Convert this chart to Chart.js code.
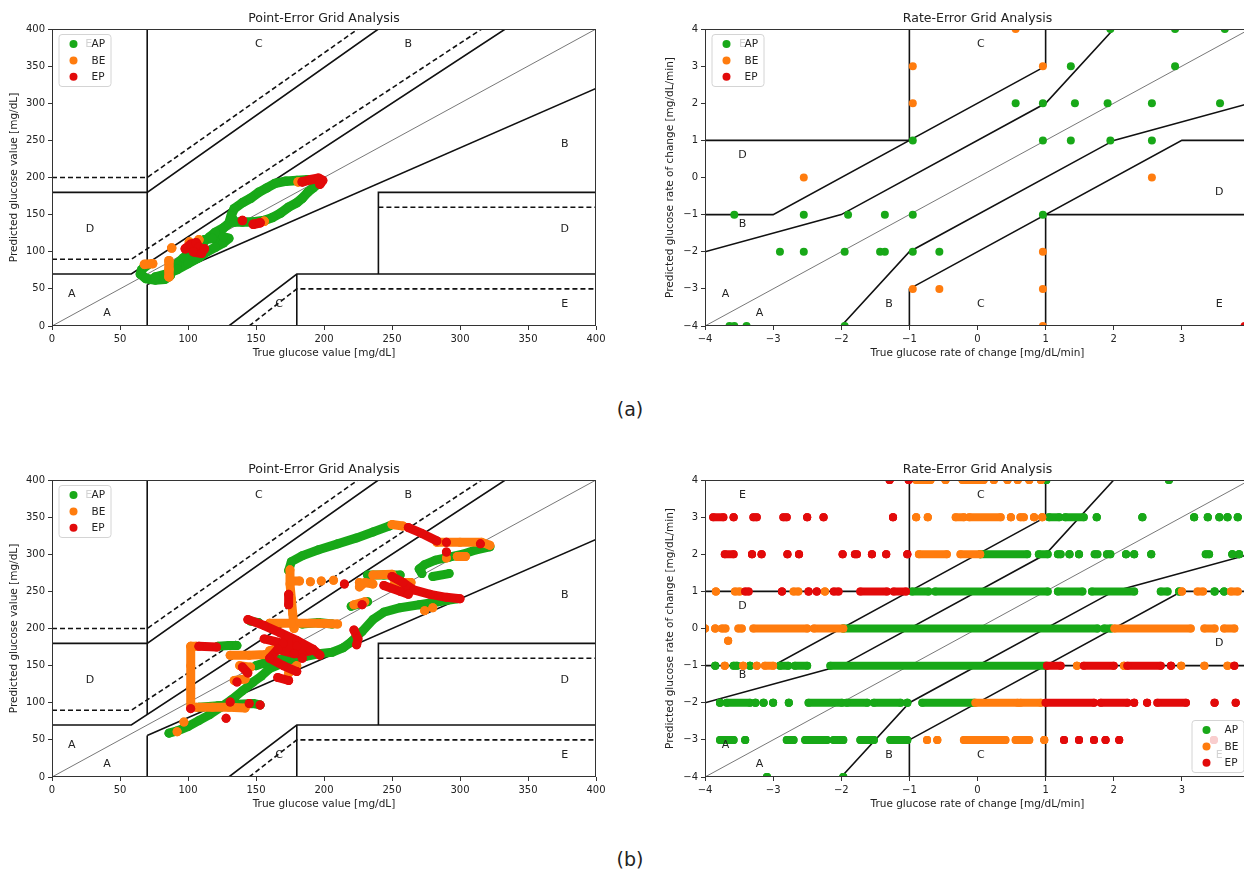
<!DOCTYPE html>
<html lang="en">
<head>
<meta charset="UTF-8">
<title>Point-Error and Rate-Error Grid Analysis</title>
<script src="https://cdn.jsdelivr.net/npm/chart.js"></script>
<style>
  html, body { margin: 0; padding: 0; background: #fff; }
  body { width: 1244px; height: 870px; overflow: hidden; position: relative; font-family: "DejaVu Sans", sans-serif; }
  canvas { position: absolute; }
  .cap { position: absolute; font-size: 19px; color: #222; transform: translateX(-50%); line-height: 1; }
</style>
</head>
<body>

<canvas id="pegA" width="620" height="370" style="left:0;top:0"></canvas>
<canvas id="regA" width="650" height="370" style="left:620px;top:0"></canvas>
<canvas id="pegB" width="620" height="370" style="left:0;top:451px"></canvas>
<canvas id="regB" width="650" height="370" style="left:620px;top:451px"></canvas>
<div class="cap" style="left:630px;top:400px">(a)</div>
<div class="cap" style="left:630px;top:850px">(b)</div>

<script>
// ---------- series ----------
const seriesNames = ['AP', 'BE', 'EP'];
const seriesColors = ['#18a818', '#ff7c0e', '#e20a0a'];

// ---------- ticks ----------
const pegTicks = [0, 50, 100, 150, 200, 250, 300, 350, 400];
const regTicks = [-4, -3, -2, -1, 0, 1, 2, 3, 4];

// ---------- point-error grid zones ----------
const pegSolid = [
  [[70, 84], [70, 400]],
  [[70, 0], [70, 56]],
  [[0, 180], [70, 180], [240, 400]],
  [[0, 70], [58.3, 70], [333.3, 400]],
  [[70, 56], [400, 320]],
  [[130, 0], [180, 70], [400, 70]],
  [[180, 0], [180, 70]],
  [[240, 70], [240, 180], [400, 180]]
];
const pegDashed = [
  [[0, 200], [70, 200], [225, 400]],
  [[0, 90], [58.5, 90], [316, 400]],
  [[145, 0], [180, 50], [400, 50]],
  [[240, 160], [400, 160]]
];
const pegIdentity = [[0, 0], [400, 400]];
const pegLabels = [
  [152, 380, 'C'], [262, 380, 'B'], [377, 245, 'B'], [28, 130, 'D'], [377, 130, 'D'],
  [14.5, 43, 'A'], [40.5, 17, 'A'], [167, 30, 'C'], [377, 30, 'E'], [27, 380, 'E']
];

// ---------- rate-error grid zones ----------
const regSolid = [
  [[-1, 1], [-1, 4]],
  [[-4, 1], [-1, 1]],
  [[-4, -1], [-3, -1], [1, 3], [1, 4]],
  [[-4, -2], [-2, -1], [1, 2], [2, 4]],
  [[-2, -4], [-1, -2], [2, 1], [4, 2]],
  [[-1, -4], [-1, -3], [3, 1], [4, 1]],
  [[1, -4], [1, -1], [4, -1]]
];
const regIdentity = [[-4, -4], [4, 4]];
const regLabels = [
  [0.05, 3.6, 'C'], [-3.45, 0.6, 'D'], [-3.45, -1.25, 'B'], [3.55, -0.4, 'D'],
  [-3.7, -3.15, 'A'], [-3.2, -3.65, 'A'], [-1.3, -3.4, 'B'], [0.05, -3.4, 'C'],
  [3.55, -3.4, 'E'], [-3.45, 3.6, 'E']
];

// ---------- (a) point-error trails, null = break ----------
const pegA_AP = [
  [70, 82], [66, 76], [65, 70], [69, 64], [76, 62], [83, 63], [87, 68], [88, 76], [92, 84], [97, 92], [102, 100],
  [108, 108], [112, 114], [116, 120], [120, 126], [126, 132], [130, 138], [132, 150], [134, 158], [140, 166],
  [146, 172], [152, 180], [158, 186], [164, 192], [172, 195], [180, 196], [188, 197], null,
  [196, 192], [192, 186], [188, 180], [184, 172], [180, 166], [174, 160], [168, 152], [162, 146], [156, 142],
  [148, 140], [140, 140], [134, 140], [132, 148], null,
  [76, 66], [84, 70], [92, 76], [100, 84], [108, 92], [114, 100], [120, 106], [126, 112], [130, 118],
  [126, 120], [118, 118], [112, 116]
];
const pegA_BE = [
  [68, 83], [74, 84], null, [86, 88], [86, 76], [86, 66], null, [88, 105], null, [101, 113], null,
  [108, 116], null, [181, 194], null, [198, 196], null, [156, 141]
];
const pegA_EP = [
  [98, 104], [102, 110], [106, 112], [108, 106], [104, 100], [110, 98], null, [112, 104], null,
  [184, 194], [190, 197], [196, 199], [199, 196], [197, 191], null, [140, 142], null, [148, 137], [153, 139]
];

// ---------- (b) point-error trails ----------
const pegB_AP = [
  [86, 59], [92, 62], [100, 68], [108, 76], [116, 84], [124, 94], [132, 104], [140, 116], [148, 128], [154, 136],
  [160, 146], [168, 152], [176, 158], [186, 162], [196, 166], [206, 168], [214, 174], [220, 182], [228, 196],
  [236, 212], [244, 222], [256, 228], [270, 232], [284, 236], [298, 240], null,
  [108, 94], [122, 96], [136, 98], [148, 99], [153, 97], null,
  [122, 176], [130, 177], [136, 177], null,
  [174, 278], [176, 290], [184, 298], [196, 306], [210, 314], [224, 322], [236, 330], [248, 338], null,
  [322, 310], [312, 306], [302, 300], [292, 296], [282, 292], [274, 286], [270, 280], [272, 274], null,
  [280, 270], [292, 274], null,
  [184, 206], [196, 208], [206, 206], null,
  [232, 272], [244, 272], [256, 272], null,
  [146, 210], [152, 208], null,
  [220, 230], [232, 236], null,
  [150, 150], [160, 156], [172, 160]
];
const pegB_BE = [
  [102, 176], [102, 150], [102, 120], [102, 94], null, [102, 176], [106, 176], null,
  [106, 94], [118, 94], [130, 94], [142, 93], null,
  [92, 61], null, [97, 74], null,
  [131, 164], [145, 164], [157, 165], null,
  [175, 279], [175, 260], [176, 240], [177, 220], [178, 200], null,
  [176, 264], [182, 264], null, [190, 263], null, [198, 264], null, [207, 265], null, [226, 262], null,
  [250, 340], [258, 338], null,
  [283, 316], [300, 316], [316, 316], [322, 312], null,
  [290, 295], null, [298, 297], [304, 297], null,
  [160, 207], [176, 207], [196, 207], [210, 206], null,
  [226, 256], [230, 262], [236, 260], null,
  [252, 262], [264, 262], null,
  [236, 272], [250, 273], null,
  [222, 232], [230, 236], null,
  [138, 150], [146, 148], null, [134, 130], [142, 132], null,
  [160, 170], [170, 176], [180, 168], null,
  [174, 140], [180, 150], null, [280, 228], null, [274, 224]
];
const pegB_EP = [
  [102, 92], null, [108, 176], [121, 175], null, [131, 101], null, [145, 99], null, [153, 97], null, [128, 79], null,
  [144, 212], [156, 204], [168, 194], [180, 184], [192, 172], [197, 164], null,
  [156, 186], [170, 180], [180, 176], [190, 170], [178, 166], [166, 172], [160, 160], [170, 150], [180, 142], null,
  [174, 246], [174, 232], null,
  [262, 336], [272, 328], [283, 318], null, [290, 316], null, [315, 314], null,
  [290, 303], null,
  [250, 270], [258, 262], [266, 252], [278, 246], [290, 242], [300, 240], null,
  [244, 258], [256, 250], [262, 246], null,
  [215, 260], null,
  [222, 198], [225, 186], [224, 178], null,
  [140, 148], [144, 140], null, [136, 128], null,
  [166, 134], [174, 130], null, [184, 160], null, [228, 232]
];

// ---------- (a) rate-error points ----------
const regA_AP = [
  [1.95, 4], [2.9, 4], [3.63, 4], [1.37, 3], [2.9, 3], [0.56, 2], [0.96, 2], [1.43, 2], [1.91, 2], [2.56, 2],
  [3.56, 2], [-0.95, 1], [0.96, 1], [1.37, 1], [1.95, 1], [2.56, 1], [-3.57, -1], [-2.55, -1], [-1.9, -1],
  [-1.36, -1], [-0.95, -1], [0.96, -1], [-2.9, -2], [-2.55, -2], [-1.95, -2], [-1.43, -2], [-1.36, -2],
  [-0.95, -2], [-0.56, -2], [-3.64, -4], [-3.57, -4], [-3.39, -4], [-1.95, -4]
];
const regA_BE = [
  [0.56, 4], [-0.95, 3], [0.96, 3], [-0.95, 2], [-2.55, 0], [2.56, 0], [0.96, -2], [-0.95, -3], [-0.56, -3],
  [0.96, -3], [0.96, -4]
];
const regA_EP = [[3.92, -4]];

// ---------- (b) rate-error points, runs of [y, xFrom, xTo] ----------
const regB_AP = [
  [4, 1.01, 1.01], [4, 2.81, 2.81],
  [3, 1.05, 1.2], [3, 1.29, 1.56], [3, 1.75, 1.75], [3, 2.42, 2.42], [3, 3.18, 3.18], [3, 3.38, 3.38],
  [3, 3.55, 3.55], [3, 3.67, 3.67], [3, 3.82, 3.82],
  [2, 0.04, 0.73], [2, 0.9, 1.03], [2, 1.18, 1.22], [2, 1.35, 1.35], [2, 1.49, 1.49], [2, 1.72, 1.76],
  [2, 1.9, 1.95], [2, 2.18, 2.18], [2, 2.3, 2.3], [2, 2.55, 2.55], [2, 3.35, 3.4], [2, 3.74, 3.74], [2, 3.84, 3.84],
  [1, -0.96, -0.72], [1, -0.62, 1.03], [1, 1.18, 1.54], [1, 1.68, 2.3], [1, 2.69, 2.79], [1, 2.96, 2.96],
  [1, 3.48, 3.48], [1, 3.62, 3.62],
  [0, -1.97, 1.76], [0, 1.86, 1.96],
  [-1, -3.85, -3.85], [-1, -3.58, -3.53], [-1, -3.34, -3.34], [-1, -2.9, -2.78], [-1, -2.68, -2.5],
  [-1, -2.16, 1.0],
  [-2, -3.78, -3.78], [-2, -3.68, -3.34], [-2, -3.26, -3.26], [-2, -3.14, -3.14], [-2, -3.0, -3.0],
  [-2, -2.77, -2.77], [-2, -2.48, -1.99], [-2, -1.92, -1.62], [-2, -1.52, -1.13], [-2, -1.03, -1.03],
  [-2, -0.81, -0.05],
  [-3, -3.78, -3.58], [-3, -3.41, -3.41], [-3, -2.8, -2.7], [-3, -2.53, -2.21], [-3, -2.11, -1.97],
  [-3, -1.72, -1.52], [-3, -1.28, -1.03],
  [-4, -3.09, -3.09], [-4, -1.97, -1.97]
];
const regB_BE = [
  [4, -0.9, -0.69], [4, -0.47, -0.47], [4, -0.22, 0.09], [4, 0.24, 0.24], [4, 0.44, 0.44], [4, 0.59, 0.59],
  [4, 0.76, 0.76], [4, 0.93, 0.93],
  [3, -0.9, -0.9], [3, -0.73, -0.73], [3, -0.32, -0.2], [3, -0.12, 0.34], [3, 0.49, 0.49], [3, 0.63, 0.68],
  [3, 0.83, 0.83], [3, 0.95, 0.95],
  [2, -0.86, -0.45], [2, -0.25, 0.04],
  [1, -3.84, -3.84], [1, -3.56, -3.49], [1, -2.7, -2.63], [1, -2.24, -2.24], [1, 3.0, 3.0], [1, 3.23, 3.31],
  [1, 3.72, 3.82],
  [0, -4.0, -4.0], [0, -3.85, -3.85], [0, -3.75, -3.7], [0, -3.51, -3.46], [0, -3.29, -2.5], [0, -2.4, -1.97],
  [0, 2.01, 3.13], [0, 3.33, 3.48], [0, 3.62, 3.77], [-0.33, -3.66, -3.66],
  [-1, -3.71, -3.71], [-1, -3.44, -3.44], [-1, -3.24, -3.24], [-1, -3.12, -3.0], [-1, 1.46, 1.46],
  [-1, 2.15, 2.15], [-1, 2.99, 2.99], [-1, 3.33, 3.33], [-1, 3.67, 3.67],
  [-2, -0.03, 0.59], [-2, 0.63, 0.93],
  [-3, -0.74, -0.74], [-3, -0.59, -0.59], [-3, -0.2, 0.41], [-3, 0.56, 0.76], [-3, 0.98, 0.98]
];
const regB_EP = [
  [4, -1.29, -1.29], [4, -1.01, -1.01],
  [3, -3.88, -3.73], [3, -3.58, -3.58], [3, -3.29, -3.24], [3, -2.85, -2.8], [3, -2.5, -2.5], [3, -2.26, -2.26],
  [3, -1.24, -1.24],
  [2, -3.71, -3.58], [2, -3.31, -3.31], [2, -3.17, -3.17], [2, -2.79, -2.79], [2, -2.62, -2.62],
  [2, -1.98, -1.98], [2, -1.8, -1.77], [2, -1.55, -1.55], [2, -1.34, -1.34], [2, -1.03, -1.03],
  [1, -3.41, -3.36], [1, -2.87, -2.87], [1, -2.48, -2.48], [1, -2.36, -2.36], [1, -2.11, -2.04],
  [1, -1.72, -1.33], [1, -1.23, -1.05],
  [-1, 1.02, 1.22], [-1, 1.56, 2.0], [-1, 2.2, 2.69], [-1, 2.84, 2.84], [-1, 3.77, 3.77],
  [-2, 1.0, 1.71], [-2, 1.81, 2.2], [-2, 2.3, 2.3], [-2, 2.49, 2.49], [-2, 2.64, 3.06], [-2, 3.48, 3.48],
  [-2, 3.79, 3.79],
  [-3, 1.27, 1.27], [-3, 1.49, 1.49], [-3, 1.71, 1.71], [-3, 1.88, 1.88], [-3, 2.08, 2.08], [-3, 3.47, 3.47]
];

// ---------- helpers ----------
function pts(list) {
  return list.map(p => p ? {x: p[0], y: p[1]} : {x: null, y: null});
}
function runs(list) {
  const out = [];
  list.forEach(([y, x0, x1]) => out.push({x: x0, y: y}, {x: x1, y: y}, {x: null, y: null}));
  return out;
}

function seriesSets(dataLists, trail, width) {
  return dataLists.map((d, i) => ({
    label: seriesNames[i],
    data: d,
    showLine: trail,
    borderColor: seriesColors[i],
    backgroundColor: seriesColors[i],
    borderWidth: width,
    borderCapStyle: 'round',
    borderJoinStyle: 'round',
    pointRadius: width / 2,
    pointBorderWidth: 0,
    clip: 0,
    order: 3 - i
  }));
}

function lineSets(solid, dashed, identity) {
  const sets = [];
  solid.forEach(p => sets.push({data: pts(p), showLine: true, borderColor: '#111', borderWidth: 1.6, pointRadius: 0, order: 10}));
  dashed.forEach(p => sets.push({data: pts(p), showLine: true, borderColor: '#111', borderWidth: 1.6, borderDash: [5, 3], pointRadius: 0, order: 10}));
  sets.push({data: pts(identity), showLine: true, borderColor: '#555', borderWidth: 0.8, pointRadius: 0, order: 11});
  return sets;
}

function decor(title, labels, legendPos) {
  return {
    id: 'decor',
    afterDatasetsDraw(chart) {
      const {ctx, chartArea: a, scales: {x, y}} = chart;
      ctx.save();
      // zone letters
      ctx.font = '11px "DejaVu Sans"';
      ctx.fillStyle = '#222';
      ctx.textAlign = 'center';
      ctx.textBaseline = 'middle';
      labels.forEach(([vx, vy, t]) => ctx.fillText(t, x.getPixelForValue(vx), y.getPixelForValue(vy)));
      // frame
      ctx.strokeStyle = '#333';
      ctx.lineWidth = 1;
      ctx.strokeRect(a.left + 0.5, a.top + 0.5, a.right - a.left - 1, a.bottom - a.top - 1);
      // title
      ctx.font = '12.5px "DejaVu Sans"';
      ctx.fillText(title, (a.left + a.right) / 2, a.top - 10);
      // legend
      const w = 52, h = 52;
      const bx = legendPos === 'tl' ? a.left + 6.5 : a.right - 6.5 - w;
      const by = legendPos === 'tl' ? a.top + 5 : a.bottom - 5 - h;
      ctx.beginPath();
      ctx.roundRect(bx + 0.5, by + 0.5, w, h, 3);
      ctx.fillStyle = 'rgba(255,255,255,0.8)';
      ctx.fill();
      ctx.strokeStyle = '#d4d4d4';
      ctx.stroke();
      ctx.font = '10.5px "DejaVu Sans"';
      ctx.textAlign = 'left';
      seriesNames.forEach((n, i) => {
        const cy = by + 10 + i * 16.4;
        ctx.fillStyle = seriesColors[i];
        ctx.beginPath();
        ctx.arc(bx + 15, cy, 4, 0, Math.PI * 2);
        ctx.fill();
        ctx.fillStyle = '#222';
        ctx.fillText(n, bx + 33, cy + 0.5);
      });
      ctx.restore();
    }
  };
}

function axis(min, max, ticks, titleText, isY, width, titlePad, fmt) {
  return {
    type: 'linear',
    min: min,
    max: max,
    afterBuildTicks: s => { s.ticks = ticks.map(v => ({value: v})); },
    afterFit: s => { if (isY) s.width = width; else s.height = width; },
    grid: {drawOnChartArea: false, drawTicks: true, tickLength: 4, tickColor: '#333'},
    border: {display: false},
    ticks: {color: '#222', font: {family: 'DejaVu Sans', size: 10}, padding: 3, callback: fmt, maxRotation: 0},
    title: {display: true, text: titleText, color: '#222', font: {family: 'DejaVu Sans', size: 10.5},
            padding: isY ? {top: titlePad, bottom: 0} : {top: 0, bottom: titlePad}}
  };
}

const minus = v => v < 0 ? '\u2212' + Math.abs(v) : String(v);

function makeChart(id, datasets, xAxis, yAxis, padRight, plugin) {
  return new Chart(document.getElementById(id), {
    type: 'scatter',
    data: {datasets: datasets},
    options: {
      responsive: false,
      animation: false,
      events: [],
      layout: {padding: {left: 0, top: 29, right: padRight, bottom: 0}},
      plugins: {legend: {display: false}, tooltip: {enabled: false}},
      scales: {x: xAxis, y: yAxis}
    },
    plugins: [plugin]
  });
}

const pegX = () => axis(0, 400, pegTicks, 'True glucose value [mg/dL]', false, 44, 10, v => String(v));
const pegY = () => axis(0, 400, pegTicks, 'Predicted glucose value [mg/dL]', true, 52, 8, v => String(v));
const regX = () => axis(-4, 4, regTicks, 'True glucose rate of change [mg/dL/min]', false, 44, 10, minus);
const regY = () => axis(-4, 4, regTicks, 'Predicted glucose rate of change [mg/dL/min]', true, 85, 44, minus);

makeChart('pegA',
  seriesSets([pts(pegA_AP), pts(pegA_BE), pts(pegA_EP)], true, 9.5).concat(lineSets(pegSolid, pegDashed, pegIdentity)),
  pegX(), pegY(), 24, decor('Point-Error Grid Analysis', pegLabels, 'tl'));

makeChart('pegB',
  seriesSets([pts(pegB_AP), pts(pegB_BE), pts(pegB_EP)], true, 9).concat(lineSets(pegSolid, pegDashed, pegIdentity)),
  pegX(), pegY(), 24, decor('Point-Error Grid Analysis', pegLabels, 'tl'));

makeChart('regA',
  seriesSets([pts(regA_AP), pts(regA_BE), pts(regA_EP)], false, 8).concat(lineSets(regSolid, [], regIdentity)),
  regX(), regY(), 20, decor('Rate-Error Grid Analysis', regLabels, 'tl'));

makeChart('regB',
  seriesSets([runs(regB_AP), runs(regB_BE), runs(regB_EP)], true, 8).concat(lineSets(regSolid, [], regIdentity)),
  regX(), regY(), 20, decor('Rate-Error Grid Analysis', regLabels, 'br'));
</script>
</body>
</html>
